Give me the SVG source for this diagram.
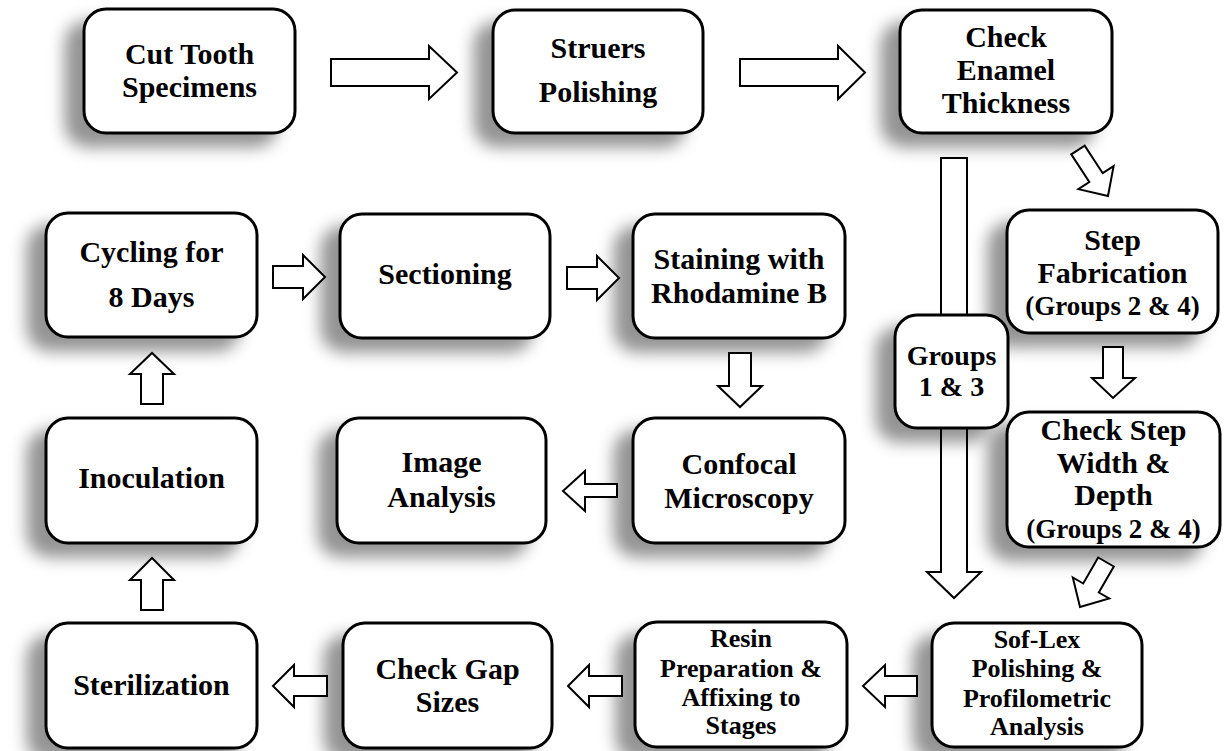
<svg xmlns="http://www.w3.org/2000/svg" width="1229" height="751" viewBox="0 0 1229 751">
<defs>
<filter id="sh" x="-30%" y="-30%" width="160%" height="170%">
<feDropShadow dx="-18" dy="13" stdDeviation="8" flood-color="#000" flood-opacity="0.42"/>
</filter>
<style>
.box{fill:#fff;stroke:#000;stroke-width:3;filter:url(#sh)}
text{font-weight:700;font-size:30px;text-anchor:middle;fill:#000}
.s{font-size:27px}
.r{font-size:26px}
.m{font-size:28px}
.ar{fill:#fff;stroke:#000;stroke-width:2;stroke-linejoin:miter}
</style>
</defs>
<rect width="1229" height="751" fill="#fff"/>

<g id="nodes" font-family="Liberation Serif, Tinos, Times New Roman, DejaVu Serif, Noto Serif, serif">
<g id="n1"><rect class="box" x="84" y="9" width="211" height="124" rx="22"/>
<text x="189.5" y="64">Cut Tooth</text><text x="189.5" y="97">Specimens</text></g>

<g id="n2"><rect class="box" x="493" y="10" width="210" height="123" rx="22"/>
<text x="598" y="58">Struers</text><text x="598" y="102">Polishing</text></g>

<g id="n3"><rect class="box" x="900" y="10" width="212" height="123" rx="22"/>
<text x="1006" y="47">Check</text><text x="1006" y="80">Enamel</text><text x="1006" y="113">Thickness</text></g>

<g id="n4"><rect class="box" x="1007" y="210" width="211" height="123" rx="22"/>
<text x="1112.5" y="250">Step</text><text x="1112.5" y="283">Fabrication</text><text class="s" x="1112.5" y="315">(Groups 2 &amp; 4)</text></g>

<g id="n6"><rect class="box" x="1007" y="412" width="213" height="135" rx="22"/>
<text x="1113.5" y="440">Check Step</text><text x="1113.5" y="473">Width &amp;</text><text x="1113.5" y="505">Depth</text><text class="s" x="1113.5" y="538">(Groups 2 &amp; 4)</text></g>

<g id="n7"><rect class="box" x="932" y="623" width="210" height="124" rx="22"/>
<text class="r" x="1037" y="648">Sof-Lex</text><text class="r" x="1037" y="677">Polishing &amp;</text><text class="r" x="1037" y="707">Profilometric</text><text class="r" x="1037" y="735">Analysis</text></g>

<g id="n8"><rect class="box" x="635" y="622" width="212" height="125" rx="22"/>
<text class="r" x="741" y="647">Resin</text><text class="r" x="741" y="677">Preparation &amp;</text><text class="r" x="741" y="706">Affixing to</text><text class="r" x="741" y="734">Stages</text></g>

<g id="n9"><rect class="box" x="343" y="623" width="209" height="125" rx="22"/>
<text x="447.5" y="679">Check Gap</text><text x="447.5" y="712">Sizes</text></g>

<g id="n10"><rect class="box" x="46" y="623" width="211" height="125" rx="22"/>
<text x="151.5" y="695">Sterilization</text></g>

<g id="n11"><rect class="box" x="46" y="418" width="211" height="125" rx="22"/>
<text x="151.5" y="488">Inoculation</text></g>

<g id="n12"><rect class="box" x="46" y="213" width="211" height="124" rx="22"/>
<text x="151.5" y="262">Cycling for</text><text x="151.5" y="307">8 Days</text></g>

<g id="n13"><rect class="box" x="340" y="214" width="210" height="124" rx="22"/>
<text x="445" y="284">Sectioning</text></g>

<g id="n14"><rect class="box" x="633" y="214" width="212" height="124" rx="22"/>
<text x="739" y="269">Staining with</text><text x="739" y="303">Rhodamine B</text></g>

<g id="n15"><rect class="box" x="337" y="418" width="209" height="125" rx="22"/>
<text x="441.5" y="472">Image</text><text x="441.5" y="507">Analysis</text></g>

<g id="n16"><rect class="box" x="633" y="418" width="212" height="125" rx="22"/>
<text x="739" y="474">Confocal</text><text x="739" y="508">Microscopy</text></g>
</g>

<g id="connectors">
<path class="ar" d="M331,59 H429 V46 L457,72.5 L429,99 V86 H331 Z"/>
<path class="ar" d="M740,59 H838 V46 L865,72.5 L838,99 V86 H740 Z"/>
<path class="ar" d="M1071.3,154.4 L1089.3,182 L1078.4,189.1 L1108,196 L1113.6,166.1 L1102.7,173.2 L1084.7,145.6 Z"/>
<path class="ar" d="M941,315 V158 H967 V315"/>
<path class="ar" d="M941,428 V572 H927 L954,598 L981,572 H967 V428"/>
<path class="ar" d="M1103,347 H1123 V378 H1135 L1113,398 L1092,378 H1103 Z"/>
<path class="ar" d="M1098.2,557.5 L1083.2,583.5 L1072.8,577.5 L1080,607 L1109.2,598.5 L1098.8,592.5 L1113.8,566.5 Z"/>
<path class="ar" d="M917,676 H885 V665 L863,686 L885,707 V696 H917 Z"/>
<path class="ar" d="M622,676 H589 V665 L568,686 L589,707 V696 H622 Z"/>
<path class="ar" d="M327,676 H294 V665 L273,686 L294,707 V696 H327 Z"/>
<path class="ar" d="M141,610 V580 H130 L152,558 L174,580 H163 V610 Z"/>
<path class="ar" d="M141,404 V374 H130 L152,353 L174,374 H163 V404 Z"/>
<path class="ar" d="M273,266 H303 V255 L325,277 L303,299 V288 H273 Z"/>
<path class="ar" d="M567,267 H597 V256 L619,278 L597,300 V289 H567 Z"/>
<path class="ar" d="M729,353 H751 V386 H762 L740,407 L718,386 H729 Z"/>
<path class="ar" d="M617,484 H585 V471 L563,491 L585,511 V497 H617 Z"/>
</g>

<g id="n5" font-family="Liberation Serif, Tinos, Times New Roman, DejaVu Serif, Noto Serif, serif"><rect class="box" x="895" y="315" width="113" height="113" rx="22"/>
<text class="m" x="951.5" y="365">Groups</text><text class="m" x="951.5" y="396">1 &amp; 3</text></g>
</svg>
